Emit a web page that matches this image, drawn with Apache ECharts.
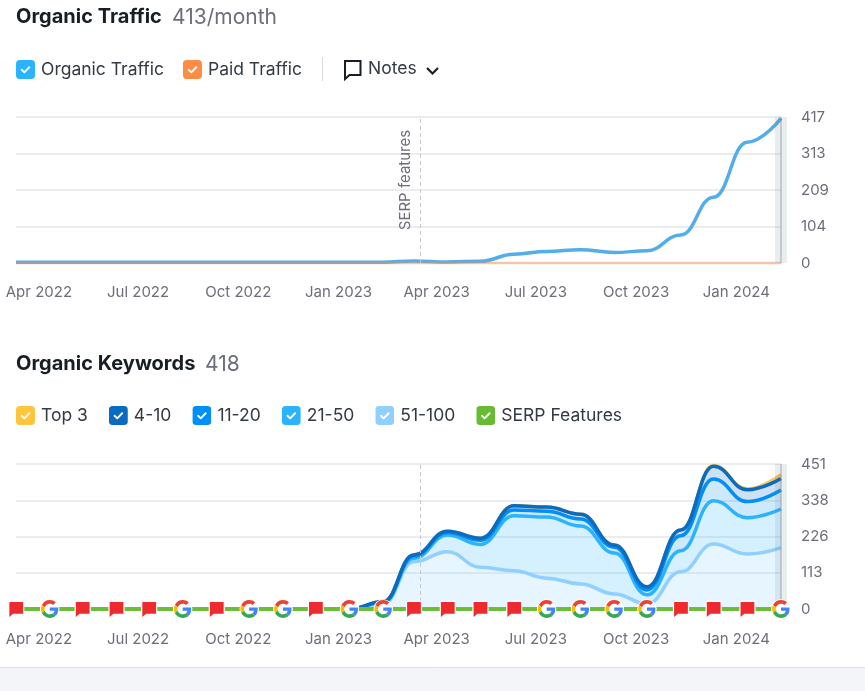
<!DOCTYPE html>
<html><head><meta charset="utf-8">
<style>html,body{margin:0;padding:0;background:#fff}#c{width:865px;height:691px}</style>
<script src="https://cdn.jsdelivr.net/npm/echarts@6/dist/echarts.min.js"></script>
</head><body><div id="c"></div>
<script>
const months = ['2022-03','2022-04','2022-05','2022-06','2022-07','2022-08','2022-09','2022-10','2022-11','2022-12','2023-01','2023-02','2023-03','2023-04','2023-05','2023-06','2023-07','2023-08','2023-09','2023-10','2023-11','2023-12','2024-01','2024-02'];
const tickMonths = ['2022-04-01','2022-07-01','2022-10-01','2023-01-01','2023-04-01','2023-07-01','2023-10-01','2024-01-01'];
const noteDate = '2023-03-17';
const organicTraffic = [2,2,2,2,2,2,2,2,2,2,2,2,6,3,5,25,33,38,30,35,80,188,345,413];
const paidTraffic = [0,0,0,0,0,0,0,0,0,0,0,0,0,0,0,0,0,0,0,0,0,0,0,0];
const top3 = [0,0,0,0,0,0,0,0,0,0,0,0,0,0,0,0,0,0,0,0,0,2,2,12];
const pos4to10 = [0,0,0,0,0,0,0,0,0,0,0,1,3,4,6,13,13,15,7,10,18,40,37,36];
const pos11to20 = [0,0,0,0,0,0,0,0,0,0,0,2,7,8,13,18,18,22,18,15,47,67,50,59];
const pos21to50 = [0,0,0,0,0,0,0,0,0,0,0,5,11,52,71,171,190,180,127,28,65,135,113,120];
const pos51to100 = [0,0,0,0,0,0,0,0,0,0,0,15,147,178,130,119,96,78,47,16,116,202,171,191];
const serpFeatures = [0,0,0,0,0,0,0,0,0,0,0,0,0,0,0,0,0,0,0,0,0,0,0,0];
const serpKinds = ['F','G','F','F','F','G','F','G','G','F','G','G','F','F','F','F','G','G','G','G','F','F','F','G'];
const trafficTicks = [0,104.25,208.5,312.75,417];
const keywordTicks = [0,112.75,225.5,338.25,451];

const svg = s => 'image://data:image/svg+xml;charset=utf-8,' + encodeURIComponent(s);
const box = c => svg(`<svg xmlns="http://www.w3.org/2000/svg" width="40" height="40" viewBox="0 0 20 20"><rect width="20" height="20" rx="4" fill="${c}"/><path d="M6 10.3l2.8 2.7L14 7.6" fill="none" stroke="#fff" stroke-width="2" stroke-linecap="round" stroke-linejoin="round"/></svg>`);
const flag = svg(`<svg xmlns="http://www.w3.org/2000/svg" width="60" height="60" viewBox="0 0 20 20"><path d="M3 2.5h14.5v12.5H7L3 18.5z" fill="#ee2a2e" stroke="#fff" stroke-width="2.5" paint-order="stroke"/></svg>`);
const gLogo = svg(`<svg xmlns="http://www.w3.org/2000/svg" width="60" height="60" viewBox="-3 -3 54 54"><circle cx="24" cy="24" r="26.5" fill="#fff"/><path fill="#EA4335" d="M24 9.5c3.5 0 6.7 1.2 9.2 3.6l6.9-6.9C35.900 2.400 30.500 0 24 0 14.600 0 6.500 5.400 2.600 13.200l8 6.200C12.400 13.700 17.700 9.500 24 9.500z"/><path fill="#4285F4" d="M47 24.500c0-1.600-.100-3.100-.400-4.500H24v9h12.900c-.6 3-2.200 5.500-4.700 7.200l7.700 6C44.400 38 47 31.800 47 24.500z"/><path fill="#FBBC05" d="M10.500 28.600c-.5-1.400-.8-3-.8-4.600s.3-3.200.8-4.600l-8-6.200C.9 16.500 0 20.100 0 24s.9 7.500 2.600 10.800z"/><path fill="#34A853" d="M24 48c6.500 0 11.900-2.100 15.900-5.800l-7.700-6c-2.200 1.400-4.900 2.300-8.200 2.300-6.300 0-11.600-4.200-13.500-9.900l-8 6.200C6.500 42.600 14.600 48 24 48z"/></svg>`);

const pad = d => d + '-11';
const x = months.map(m => echarts.time.parse(pad(m)).getTime());
// value first, date second: the stack must run over the value column
const zipX = arr => arr.map((v, i) => [v, x[i]]);
const tickVals = tickMonths.map(d => echarts.time.parse(d).getTime());
const noteX = echarts.time.parse(noteDate).getTime();
const monthNames = ['Jan','Feb','Mar','Apr','May','Jun','Jul','Aug','Sep','Oct','Nov','Dec'];
const FONT = 'Inter';
const GREY = '#6c6e79';

function xAxis(gridIndex, margin) {
  return { type:'value', gridIndex, min:x[0], max:x[x.length-1],
    axisLine:{show:false}, axisTick:{show:false}, splitLine:{show:false},
    axisLabel:{ customValues:tickVals, margin, color:GREY, fontFamily:FONT, fontSize:15, hideOverlap:false,
      formatter:v=>{const d=new Date(v);return monthNames[d.getMonth()]+' '+d.getFullYear();} } };
}
function yAxis(gridIndex, ticks) {
  return { type:'value', gridIndex, position:'right', min:0, max:ticks[4], interval:ticks[1],
    axisLine:{show:false}, axisTick:{show:false},
    splitLine:{lineStyle:{color:'#e3e6ec',width:1.5}},
    axisLabel:{margin:20, color:GREY, fontFamily:FONT, fontSize:15, formatter:v=>String(Math.round(v))} };
}
function guide(idx, label) {
  return { type:'line', name:'guides'+idx, xAxisIndex:idx, yAxisIndex:idx, data:[], z:1, silent:true,
    markLine:{ silent:true, symbol:'none', animation:false, precision:0,
      data:[
        {xAxis:x[x.length-1], lineStyle:{color:'rgba(90,115,120,0.13)',width:12,type:'solid'}, label:{show:false}},
        {xAxis:x[x.length-1], lineStyle:{color:'rgba(110,125,135,0.3)',width:2,type:'solid'}, label:{show:false}},
        {xAxis:noteX, lineStyle:{color:'#c6c8cc',width:1,type:[4,3]},
          label: label ? {show:true, formatter:label, position:'insideMiddleTop', distance:7, padding:[0,0,0,20], color:GREY, fontFamily:FONT, fontSize:15} : {show:false}}
      ]}};
}
function line(idx, name, data, color, width, extra) {
  return Object.assign({ type:'line', name, xAxisIndex:idx, yAxisIndex:idx,
    encode:{x:1,y:0}, data:zipX(data), smooth:0.45, smoothMonotone:'x',
    showSymbol:false, symbol:'none', lineStyle:{color,width}, itemStyle:{color}, animation:false, clip:false }, extra||{});
}
function keyword(name, data, color, areaOpacity, z) {
  return line(1, name, data, color, 3.5, {stack:'kw', z, areaStyle:{color, opacity:areaOpacity}});
}
const legendBase = { orient:'horizontal', padding:0, itemWidth:19, itemHeight:19, selectedMode:false, left:16,
  textStyle:{color:'#333a44', fontFamily:FONT, fontSize:17.5, padding:[0,0,0,1]} };

const option = {
  animation:false,
  textStyle:{fontFamily:FONT},
  grid:[{left:16,right:84,top:117,height:146},{left:16,right:84,top:464,height:145}],
  xAxis:[xAxis(0,22),xAxis(1,23)],
  yAxis:[yAxis(0,trafficTicks),yAxis(1,keywordTicks)],
  legend:[
    Object.assign({},legendBase,{top:60,itemGap:19,data:[{name:'Organic Traffic',icon:box('#2bb3ff')},{name:'Paid Traffic',icon:box('#ff8c43')}]}),
    Object.assign({},legendBase,{top:406,itemGap:21,data:[{name:'Top 3',icon:box('#ffc53d')},{name:'4-10',icon:box('#0a6bc1')},{name:'11-20',icon:box('#008ff8')},{name:'21-50',icon:box('#2bb3ff')},{name:'51-100',icon:box('#8fd0ff')},{name:'SERP Features',icon:box('#66bb33')}]})
  ],
  series:[
    guide(0,'SERP features'),
    guide(1,null),
    line(0,'Organic Traffic',organicTraffic,'#52ade9',3.5,{z:3}),
    line(0,'Paid Traffic',paidTraffic,'rgba(255,140,67,0.4)',2.5,{z:4}),
    keyword('51-100',pos51to100,'#8fd0ff',0.22,3),
    keyword('21-50',pos21to50,'#2bb3ff',0.2,3),
    keyword('11-20',pos11to20,'#008ff8',0.2,3),
    keyword('4-10',pos4to10,'#0a6bc1',0.2,3),
    keyword('Top 3',top3,'#f5c65a',0.2,2),
    line(1,'SERP Features',serpFeatures,'#6cbd3a',4,{z:6,showSymbol:true,showAllSymbol:true,
      data:serpFeatures.map((v,i)=>({value:[v,x[i]],symbol:serpKinds[i]==='F'?flag:gLogo,symbolSize:serpKinds[i]==='F'?[19,19]:[20,20]})) })
  ],
  graphic:[
    {type:'text',left:16,top:7,style:{text:'Organic Traffic',fill:'#181e25',font:'700 20px Inter'}},
    {type:'text',left:172,top:7,style:{text:'413/month',fill:GREY,font:'400 21px Inter'}},
    {type:'text',left:16,top:354,style:{text:'Organic Keywords',fill:'#181e25',font:'700 20px Inter'}},
    {type:'text',left:205,top:354,style:{text:'418',fill:GREY,font:'400 21px Inter'}},
    {type:'line',shape:{x1:322.5,y1:57,x2:322.5,y2:81},style:{stroke:'#d8dbe0',lineWidth:1}},
    {type:'polygon',shape:{points:[[345,61],[360.5,61],[360.5,75],[349.5,75],[345,79]]},style:{fill:'none',stroke:'#181e25',lineWidth:2}},
    {type:'text',left:368,top:60,style:{text:'Notes',fill:'#333a44',font:'400 17.5px Inter'}},
    {type:'polyline',shape:{points:[[427,68],[432.500,73.500],[438,68]]},style:{fill:'none',stroke:'#181e25',lineWidth:2.2}},
    {type:'rect',shape:{x:0,y:667,width:865,height:24},style:{fill:'#f4f5f9'},z:-1},
    {type:'line',shape:{x1:0,y1:667.5,x2:865,y2:667.5},style:{stroke:'#dfe1e6',lineWidth:1}}
  ]
};
const chart = echarts.init(document.getElementById('c'),null,{renderer:'canvas'});
chart.setOption(option);
</script></body></html>
